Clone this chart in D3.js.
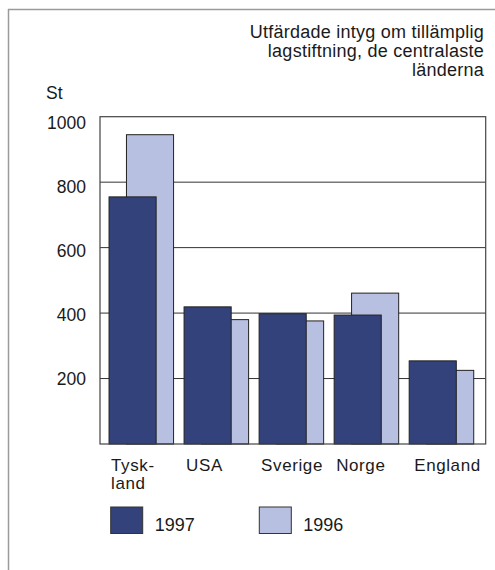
<!DOCTYPE html>
<html>
<head>
<meta charset="utf-8">
<script src="https://cdn.jsdelivr.net/npm/d3@7"></script>
<style>
  html, body { margin: 0; padding: 0; background: #fff; }
  svg { display: block; }
  text { font-family: "Liberation Sans", Arial, Helvetica, sans-serif; fill: #1a1a1a; }
</style>
</head>
<body>
<script>
const categories = ["Tyskland", "USA", "Sverige", "Norge", "England"];
const categoryLabels = [["Tysk-", "land"], ["USA"], ["Sverige"], ["Norge"], ["England"]];
const values1997 = [755, 419, 398, 394, 254];
const values1996 = [945, 380, 376, 461, 225];
const seriesNames = ["1997", "1996"];
const yTicks = [200, 400, 600, 800, 1000];
const titleLines = ["Utfärdade intyg om tillämplig", "lagstiftning, de centralaste", "länderna"];
const unitLabel = "St";

(function () {
const W = 495, H = 570;
const colDark = "#33427a", colLight = "#b8c0e2";

const svg = d3.select("body").append("svg").attr("width", W).attr("height", H);

// outer frame (top and left edges visible)
svg.append("line").attr("x1", 8).attr("x2", W).attr("y1", 9.5).attr("y2", 9.5)
  .attr("stroke", "#9a9a9a").attr("stroke-width", 1.5);
svg.append("line").attr("x1", 8.5).attr("x2", 8.5).attr("y1", 9).attr("y2", H)
  .attr("stroke", "#9a9a9a").attr("stroke-width", 1.5);

const pLeft = 100, pRight = 485.7, pTop = 116.7, pBottom = 444;
const y = d3.scaleLinear().domain([0, 1000]).range([pBottom, pTop]);
const x = d3.scaleBand().domain(categories).range([pLeft, pRight])
  .paddingInner(0.14).paddingOuter(0.14).align(0.43);
const bw = x.bandwidth();
const barW = bw * 0.73, off = bw * 0.27;

// title
svg.append("text").attr("text-anchor", "end").attr("font-size", 18).attr("letter-spacing", 0.25)
  .selectAll("tspan").data(titleLines).join("tspan")
  .attr("x", 484).attr("y", (d, i) => 38 + i * 19).text(d => d);

svg.append("text").attr("x", 46).attr("y", 99).attr("font-size", 17.5).text(unitLabel);

// plot background
svg.append("rect").attr("x", pLeft).attr("y", pTop).attr("width", pRight - pLeft).attr("height", pBottom - pTop)
  .attr("fill", "#fff");

// gridlines
svg.append("g").selectAll("line").data(yTicks.filter(v => v < 1000)).join("line")
  .attr("x1", pLeft).attr("x2", pRight).attr("y1", d => y(d)).attr("y2", d => y(d))
  .attr("stroke", "#333").attr("stroke-width", 1);

// y tick labels (printed labels drift slightly below their gridlines toward the top)
svg.append("g").selectAll("text").data(yTicks).join("text")
  .attr("x", 86).attr("y", d => y(d) + (d - 200) / 800 * 6).attr("dy", "0.37em")
  .attr("text-anchor", "end").attr("font-size", 17.5).text(d => d);

// bars: 1996 behind, 1997 in front
svg.append("g").selectAll("rect").data(categories).join("rect")
  .attr("x", d => x(d) + off).attr("width", barW)
  .attr("y", (d, i) => y(values1996[i])).attr("height", (d, i) => pBottom - y(values1996[i]))
  .attr("fill", colLight).attr("stroke", "#222").attr("stroke-width", 1);
svg.append("g").selectAll("rect").data(categories).join("rect")
  .attr("x", d => x(d)).attr("width", barW)
  .attr("y", (d, i) => y(values1997[i])).attr("height", (d, i) => pBottom - y(values1997[i]))
  .attr("fill", colDark).attr("stroke", "#222").attr("stroke-width", 1);

// plot frame
svg.append("rect").attr("x", pLeft).attr("y", pTop).attr("width", pRight - pLeft).attr("height", pBottom - pTop)
  .attr("fill", "none").attr("stroke", "#444").attr("stroke-width", 1.2);

// category labels
categories.forEach((c, i) => {
  const t = svg.append("text").attr("font-size", 17).attr("letter-spacing", 0.6);
  t.selectAll("tspan").data(categoryLabels[i]).join("tspan")
    .attr("x", x(c) + (i === 4 ? 5 : 2)).attr("y", (d, j) => 471 + j * 17.5).text(d => d);
});

// legend
const legendX = [110.7, 259.3];
const legendCols = [colDark, colLight];
seriesNames.forEach((s, i) => {
  svg.append("rect").attr("x", legendX[i]).attr("y", 507).attr("width", 32).attr("height", 26.5)
    .attr("fill", legendCols[i]).attr("stroke", "#333").attr("stroke-width", 1);
  svg.append("text").attr("x", legendX[i] + 44).attr("y", 531).attr("font-size", 18).text(s);
});
})();
</script>
</body>
</html>
